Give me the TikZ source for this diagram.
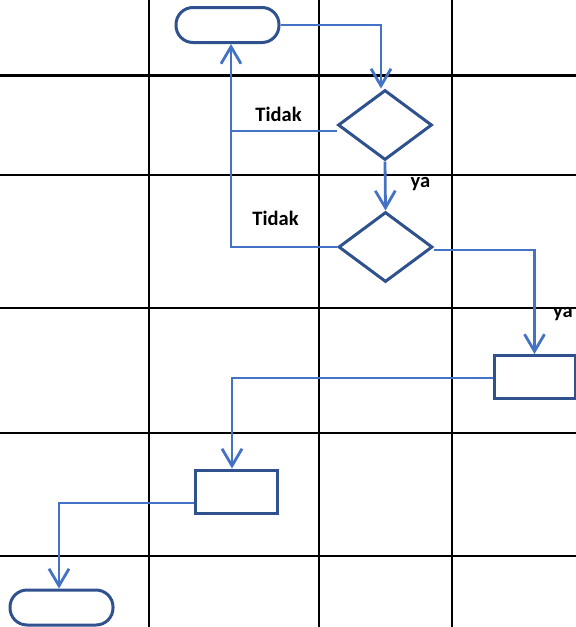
\documentclass[tikz,border=0pt]{standalone}
\usepackage{fontspec}
\setmainfont{Carlito}
\usetikzlibrary{arrows.meta,shapes.geometric}
\definecolor{conn}{HTML}{4472C4}
\definecolor{shp}{HTML}{2F528F}
\tikzset{
  gridline/.style={line width=2.9pt,black},
  terminal/.style={draw=shp,line width=3pt,rounded corners=17pt,minimum width=103pt,minimum height=35pt,inner sep=0pt},
  decision/.style={draw=shp,line width=3pt,diamond,minimum width=94pt,minimum height=70pt,inner sep=0pt},
  procbox/.style={draw=shp,line width=3pt,rectangle,minimum width=81pt,minimum height=43pt,inner sep=0pt},
  conline/.style={draw=conn,line width=2.8pt},
  conarrow/.style={conline,-{Straight Barb[length=17pt,width=20pt,line width=2.8pt]}},
  lbl/.style={font=\bfseries\fontsize{20.5pt}{22pt}\selectfont,inner sep=0pt,anchor=base}
}
\begin{document}
\begin{tikzpicture}[x=1pt,y=-1pt]
\useasboundingbox (0,0) rectangle (576,627);
% grid
\foreach \gx in {149,319,452} \draw[gridline] (\gx,0) -- (\gx,627);
\foreach \gy in {75.5,175,308,433,556} \draw[gridline] (0,\gy) -- (576,\gy);
% shapes
\node[terminal] (t1) at (227.5,25) {};
\node[decision] (d1) at (385,125) {};
\node[decision] (d2) at (385.5,247) {};
\node[procbox] (b1) at (534.5,377) {};
\node[procbox,minimum width=82pt] (b2) at (236,491.5) {};
\node[terminal] (t2) at (61.5,607.5) {};
% labels
\node[lbl] (l1) at (278.5,121) {Tidak};
\node[lbl] (l2) at (275.5,225) {Tidak};
\node[lbl] (l3) at (420.5,187.5) {ya};
\node[lbl,anchor=base west] (l4) at (553,317.5) {ya};
% helper coordinates
\coordinate (lp) at ([xshift=3.5pt]t1.south);
\coordinate (d1in) at ([xshift=-4pt]d1.north);
\coordinate (d1out) at ([yshift=-6pt]d1.west);
\coordinate (d2out) at ([yshift=-3pt]d2.east);
\coordinate (b1out) at ([yshift=-1pt]b1.west);
\coordinate (b2in) at ([xshift=-4pt]b2.north);
\coordinate (b2out) at ([yshift=-11.5pt]b2.west);
\coordinate (t2in) at ([xshift=-2.5pt]t2.north);
% connectors
\draw[conarrow] (t1.east) -| (d1in);
\draw[conarrow] (d1.south) -- (d2.north);
\draw[conline] (d1out) -- (d1out -| lp);
\draw[conarrow] (d2.west) -| (lp);
\draw[conarrow] (d2out) -| (b1.north);
\draw[conarrow] (b1out) -| (b2in);
\draw[conarrow] (b2out) -| (t2in);
\end{tikzpicture}
\end{document}
